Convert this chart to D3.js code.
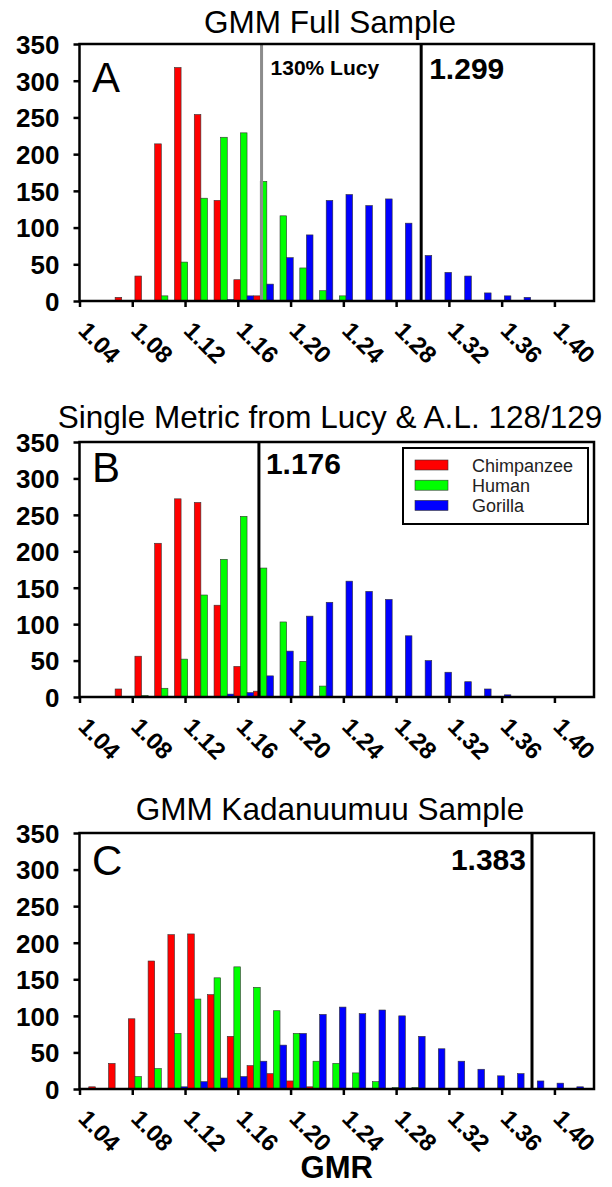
<!DOCTYPE html>
<meta charset="utf-8">
<style>
  body { margin: 0; background: #ffffff; }
  svg text { font-family: "Liberation Sans", Arial, sans-serif; }
  .tick text { font-weight: bold; }
</style>
<body>
<script src="https://d3js.org/d3.v7.min.js"></script>
<script>
// bin start (red bar left edge) for each group of three bars
var binsAB = [1.067, 1.082, 1.097, 1.112, 1.127, 1.142, 1.157, 1.172, 1.187, 1.202, 1.217, 1.232,
              1.247, 1.262, 1.277, 1.292, 1.307, 1.322, 1.337, 1.352, 1.367, 1.382, 1.397, 1.412];
var binsC  = [1.047, 1.062, 1.077, 1.092, 1.107, 1.122, 1.137, 1.152, 1.167, 1.182, 1.197, 1.212,
              1.227, 1.242, 1.257, 1.272, 1.287, 1.302, 1.317, 1.332, 1.347, 1.362, 1.377, 1.392, 1.407];

var chimpA   = [5, 34, 214, 318, 254, 137, 29, 7, 0, 0, 0, 0, 0, 0, 0, 0, 0, 0, 0, 0, 0, 0, 0, 0];
var humanA   = [0, 0, 7, 53, 140, 223, 229, 163, 116, 45, 14, 7, 0, 0, 0, 0, 0, 0, 0, 0, 0, 0, 0, 0];
var gorillaA = [0, 0, 0, 0, 0, 2, 7, 23, 59, 90, 137, 145, 130, 139, 106, 62, 39, 34, 11, 7, 5, 0, 0, 0];

var chimpB   = [11, 56, 211, 272, 267, 126, 42, 8, 0, 0, 0, 0, 0, 0, 0, 0, 0, 0, 0, 0, 0, 0, 0, 0];
var humanB   = [0, 2, 12, 52, 140, 189, 248, 177, 103, 49, 15, 0, 0, 0, 0, 0, 0, 0, 0, 0, 0, 0, 0, 0];
var gorillaB = [0, 0, 0, 0, 0, 4, 6, 29, 63, 111, 130, 159, 145, 134, 84, 50, 34, 21, 11, 3, 0, 0, 0, 0];

var chimpC   = [3, 35, 96, 175, 211, 212, 129, 72, 32, 21, 11, 3, 0, 0, 0, 0, 0, 0, 0, 0, 0, 0, 0, 0, 0];
var humanC   = [0, 0, 17, 28, 76, 123, 152, 167, 139, 107, 76, 38, 35, 22, 10, 2, 2, 0, 0, 0, 0, 0, 0, 0, 0];
var gorillaC = [0, 0, 0, 0, 3, 10, 15, 17, 38, 60, 76, 102, 112, 103, 108, 100, 72, 55, 38, 27, 18, 21, 11, 8, 3];

var xTicks = [1.04, 1.08, 1.12, 1.16, 1.20, 1.24, 1.28, 1.32, 1.36, 1.40];
var yTicks = [0, 50, 100, 150, 200, 250, 300, 350];
var species = ["Chimpanzee", "Human", "Gorilla"];
var colors = ["#ff0000", "#00ff00", "#0000ff"];

var refA = [1.178, 1.299];
var refB = [1.176];
var refC = [1.383];

var binWidth = 0.015;
var left = 79.5, right = 594;

var svg = d3.select("body").append("svg")
    .attr("width", 612)
    .attr("height", 1187);

var x = d3.scaleLinear().domain([1.04, 1.43]).range([left, right]);

var panels = [
  {letter: "A", title: "GMM Full Sample", top: 44, bottom: 301, titleY: 33, letterY: 92,
   bins: binsAB, series: [chimpA, humanA, gorillaA], refs: refA},
  {letter: "B", title: "Single Metric from Lucy & A.L. 128/129", top: 442, bottom: 697, titleY: 428, letterY: 482,
   bins: binsAB, series: [chimpB, humanB, gorillaB], refs: refB},
  {letter: "C", title: "GMM Kadanuumuu Sample", top: 833, bottom: 1089, titleY: 820, letterY: 875,
   bins: binsC, series: [chimpC, humanC, gorillaC], refs: refC}
];

panels.forEach(function(p, pi) {
  var y = d3.scaleLinear().domain([0, 350]).range([p.bottom, p.top]);
  var g = svg.append("g");

  g.append("text")
      .attr("x", 330)
      .attr("y", p.titleY)
      .attr("text-anchor", "middle")
      .style("font-size", "31.5px")
      .text(p.title);

  // bars
  var clipId = "clip" + pi;
  g.append("clipPath").attr("id", clipId)
    .append("rect")
      .attr("x", left).attr("y", p.top)
      .attr("width", right - left).attr("height", p.bottom - p.top);

  var barW = binWidth / 3;
  var bars = g.append("g").attr("clip-path", "url(#" + clipId + ")");
  p.series.forEach(function(vals, si) {
    bars.selectAll(".s" + si)
      .data(vals.map(function(v, i) { return {v: v, b: p.bins[i]}; }).filter(function(d) { return d.v > 0; }))
      .enter().append("rect")
        .attr("x", function(d) { return x(d.b + si * barW); })
        .attr("width", function(d) { return x(d.b + (si + 1) * barW) - x(d.b + si * barW); })
        .attr("y", function(d) { return y(d.v); })
        .attr("height", function(d) { return y(0) - y(d.v); })
        .style("fill", colors[si])
        .style("stroke", "#333")
        .style("stroke-width", 0.6);
  });

  // reference lines
  g.selectAll(".ref")
    .data(p.refs)
    .enter().append("line")
      .attr("x1", function(d) { return x(d); })
      .attr("x2", function(d) { return x(d); })
      .attr("y1", p.top)
      .attr("y2", p.bottom)
      .style("stroke", function(d, i) { return (p.letter == "A" && i == 0) ? "#8c8c8c" : "#000"; })
      .style("stroke-width", 3);

  // frame
  g.append("rect")
      .attr("x", left).attr("y", p.top)
      .attr("width", right - left).attr("height", p.bottom - p.top)
      .style("fill", "none")
      .style("stroke", "#000")
      .style("stroke-width", 2.5);

  // axes
  var yAxis = g.append("g")
      .attr("transform", "translate(" + left + ",0)")
      .call(d3.axisLeft(y).tickValues(yTicks).tickSize(6).tickPadding(14));
  yAxis.select(".domain").remove();
  yAxis.selectAll(".tick line").style("stroke-width", 2.5);
  yAxis.selectAll(".tick text").style("font-size", "26px").attr("dy", "0.36em");

  var xAxis = g.append("g")
      .attr("transform", "translate(0," + p.bottom + ")")
      .call(d3.axisBottom(x).tickValues(xTicks).tickSize(6).tickFormat(d3.format(".2f")));
  xAxis.select(".domain").remove();
  xAxis.selectAll(".tick line").style("stroke-width", 2.5);
  xAxis.selectAll(".tick text")
      .style("font-size", "24px")
      .attr("text-anchor", "start")
      .attr("dy", null)
      .attr("y", 0)
      .attr("transform", "translate(-3,31) rotate(45)");

  // panel letter
  g.append("text")
      .attr("x", 92)
      .attr("y", p.letterY)
      .style("font-size", "42px")
      .text(p.letter);
});

// annotations
svg.append("text").attr("x", x(refA[0]) + 9).attr("y", 75)
    .style("font-size", "21px").style("font-weight", "bold").text("130% Lucy");
svg.append("text").attr("x", x(refA[1]) + 8).attr("y", 79)
    .style("font-size", "30px").style("font-weight", "bold").text("1.299");
svg.append("text").attr("x", x(refB[0]) + 7).attr("y", 474)
    .style("font-size", "30px").style("font-weight", "bold").text("1.176");
svg.append("text").attr("x", x(refC[0]) - 6).attr("y", 870).attr("text-anchor", "end")
    .style("font-size", "30px").style("font-weight", "bold").text("1.383");

// legend in panel B
var legend = svg.append("g").attr("transform", "translate(403,448)");
legend.append("rect")
    .attr("width", 185).attr("height", 76)
    .style("fill", "#fff").style("stroke", "#000").style("stroke-width", 2);
species.forEach(function(s, i) {
  legend.append("rect")
      .attr("x", 12).attr("y", 12 + i * 20.2)
      .attr("width", 33).attr("height", 10)
      .style("fill", colors[i]).style("stroke", "#333").style("stroke-width", 0.6);
  legend.append("text")
      .attr("x", 69).attr("y", 24 + i * 20.2)
      .style("font-size", "18px").style("fill", "#222")
      .text(s);
});

svg.append("text")
    .attr("x", (left + right) / 2)
    .attr("y", 1178)
    .attr("text-anchor", "middle")
    .style("font-size", "31px")
    .style("font-weight", "bold")
    .text("GMR");
</script>
</body>
</html>
